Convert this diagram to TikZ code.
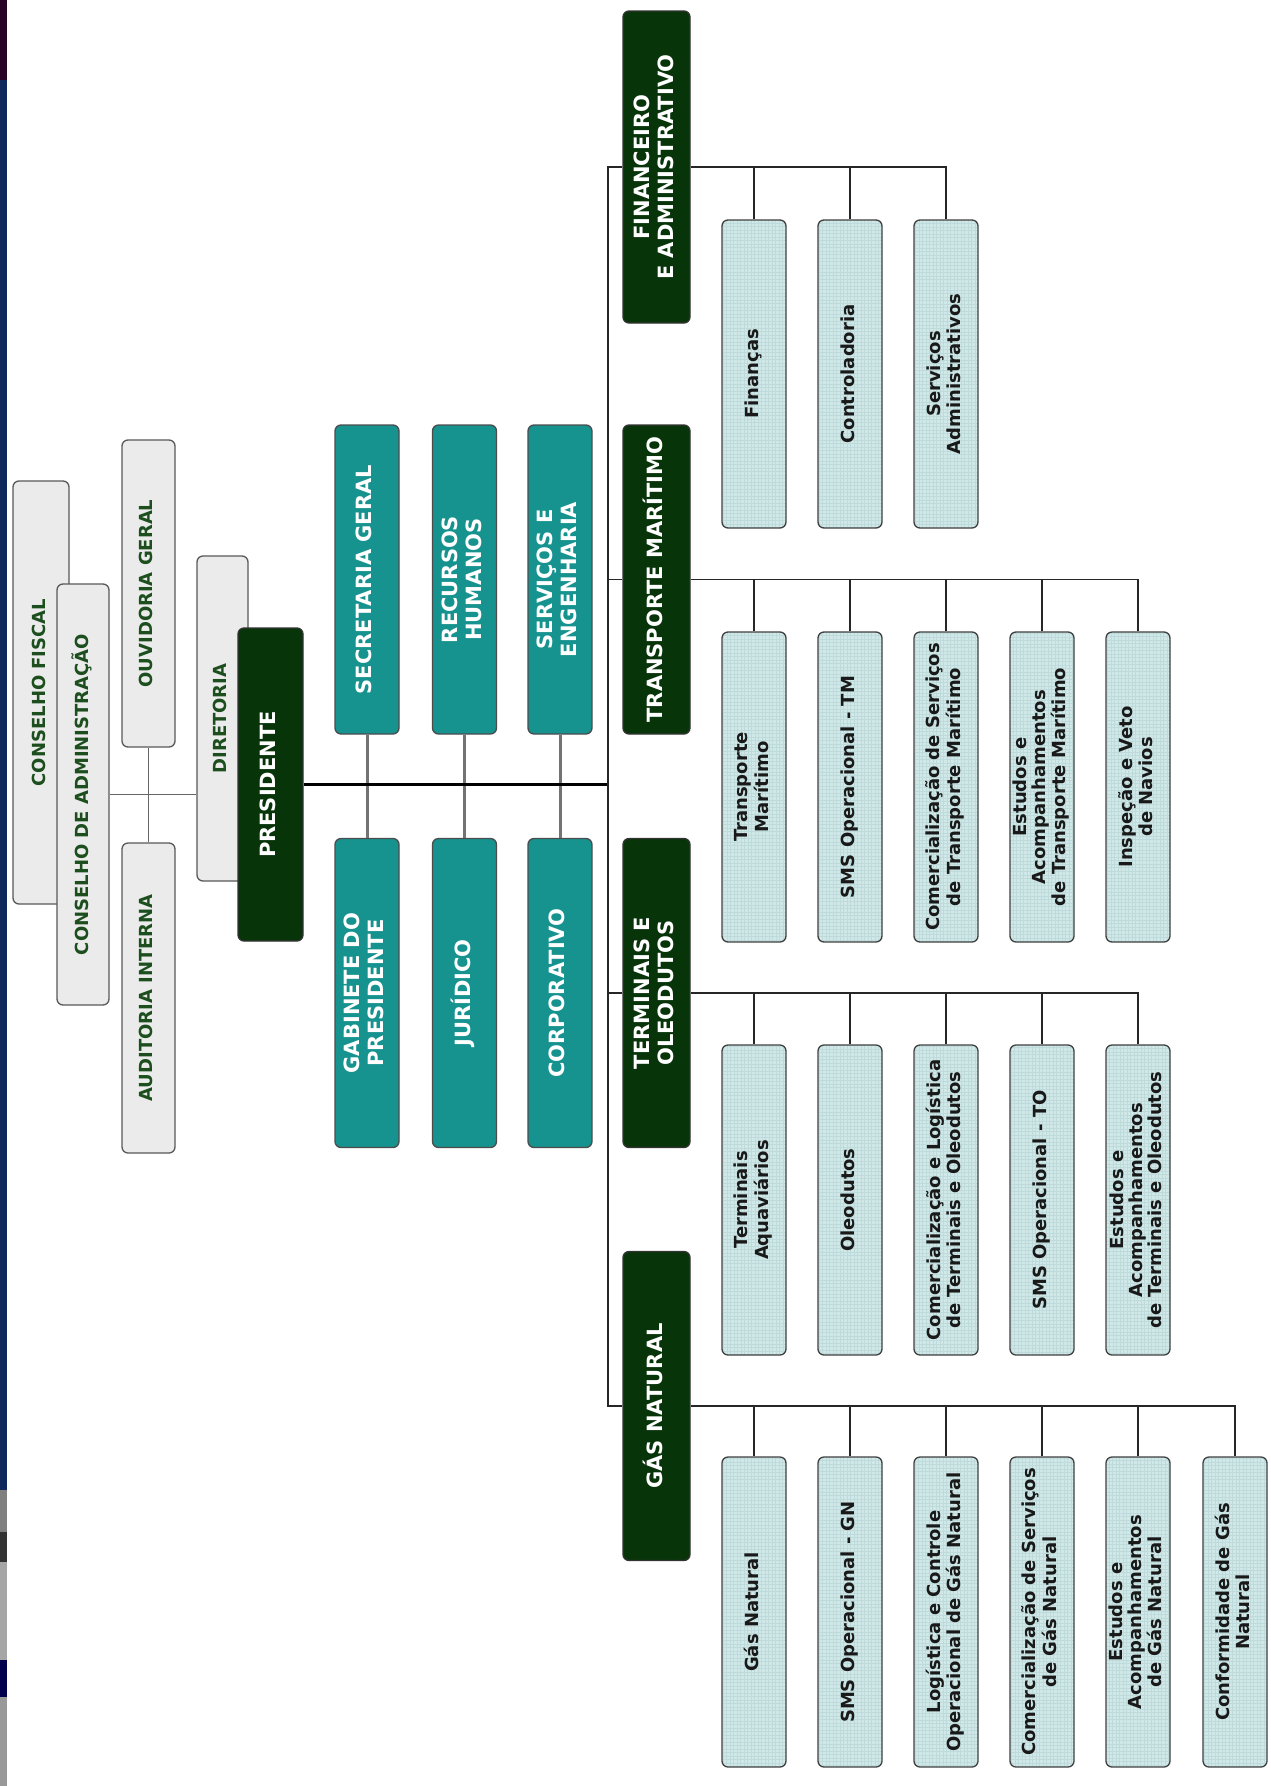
\documentclass[tikz,border=0pt]{standalone}
\usepackage{fontspec}
\setmainfont{DejaVu Sans}
\usepackage{graphicx}
\definecolor{escuro}{RGB}{8,52,10}
\definecolor{petroleo}{RGB}{22,146,143}
\definecolor{cinzacx}{RGB}{235,235,235}
\definecolor{azulcx}{RGB}{208,232,232}
\definecolor{gradecx}{RGB}{190,218,218}
\definecolor{verdetx}{RGB}{28,78,30}
\definecolor{marinho}{RGB}{14,40,92}
\newcommand{\vlabel}[1]{\rotatebox{90}{\begin{tabular}{@{}c@{}}#1\end{tabular}}}

\begin{document}
\begin{tikzpicture}[x=1pt,y=-1pt,
  box/.style={line width=1.3pt,rounded corners=6pt,inner sep=0pt},
  graybox/.style={box,draw=black!65,fill=cinzacx,text=verdetx,
    font=\fontsize{18}{21}\selectfont\bfseries},
  darkbox/.style={box,draw=black!80,fill=escuro,text=white,
    font=\fontsize{21}{24}\selectfont\bfseries},
  divbox/.style={darkbox,minimum width=67pt,minimum height=309pt},
  tealbox/.style={box,draw=black!70,fill=petroleo,text=white,
    minimum width=64pt,minimum height=309pt,
    font=\fontsize{21}{24}\selectfont\bfseries},
  subbox/.style={box,draw=black!75,fill=azulcx,text=black!90,
    minimum width=64pt,minimum height=310pt,
    font=\fontsize{18}{20}\selectfont\bfseries,
    path picture={\draw[gradecx,line width=0.4pt,step=3.5pt]
      (path picture bounding box.south west) grid
      (path picture bounding box.north east);}},
  subtight/.style={subbox,font=\fontsize{18}{18}\selectfont\bfseries},
  elo/.style={draw=black!85,line width=1.6pt},
  elopres/.style={draw=black,line width=3pt},
  elocinza/.style={draw=black!55,line width=3pt},
  elocons/.style={draw=black!60,line width=1.6pt}]
  \useasboundingbox (0,0) rectangle (1270,1786);
  \fill[white] (0,0) rectangle (1270,1786);
  % faixa da borda esquerda
  \fill[black!70!violet] (0,0) rectangle (7,80);
  \fill[marinho] (0,80) rectangle (7,1490);
  \fill[gray] (0,1490) rectangle (7,1532);
  \fill[black!80] (0,1532) rectangle (7,1562);
  \fill[gray!70] (0,1562) rectangle (7,1660);
  \fill[black!70!blue] (0,1660) rectangle (7,1697);
  \fill[gray!80] (0,1697) rectangle (7,1786);

  % conselhos e diretoria
  \node[graybox,minimum width=56pt,minimum height=423pt] (cfiscal) at (41,692.5)
    {\vlabel{CONSELHO FISCAL}};
  \node[graybox,minimum width=52pt,minimum height=421pt] (cadm) at (83,794.5)
    {\vlabel{CONSELHO DE ADMINISTRAÇÃO}};
  \node[graybox,minimum width=53pt,minimum height=307pt] (ouvid) at (148.5,593.5)
    {\vlabel{OUVIDORIA GERAL}};
  \node[graybox,minimum width=53pt,minimum height=310pt] (audit) at (148.5,998)
    {\vlabel{AUDITORIA INTERNA}};
  \node[graybox,minimum width=51pt,minimum height=325pt] (diret) at (222.5,718.5)
    {\vlabel{DIRETORIA}};
  \node[darkbox,minimum width=65pt,minimum height=313pt] (pres) at (270.5,784.5)
    {\vlabel{PRESIDENTE}};

  % orgaos ligados ao presidente
  \node[tealbox] (secgeral) at (367,579.5) {\vlabel{SECRETARIA GERAL}};
  \node[tealbox] (rh) at (464.5,579.5) {\vlabel{RECURSOS\\HUMANOS}};
  \node[tealbox] (serveng) at (560,579.5) {\vlabel{SERVIÇOS E\\ENGENHARIA}};
  \node[tealbox] (gabinete) at (367,993) {\vlabel{GABINETE DO\\PRESIDENTE}};
  \node[tealbox] (juridico) at (464.5,993) {\vlabel{JURÍDICO}};
  \node[tealbox] (corporativo) at (560,993) {\vlabel{CORPORATIVO}};

  % diretorias
  \node[divbox,minimum height=312pt] (fin) at (656.5,167)
    {\vlabel{FINANCEIRO\\E ADMINISTRATIVO}};
  \node[divbox] (transp) at (656.5,579.5) {\vlabel{TRANSPORTE MARÍTIMO}};
  \node[divbox] (term) at (656.5,993) {\vlabel{TERMINAIS E\\OLEODUTOS}};
  \node[divbox] (gas) at (656.5,1406) {\vlabel{GÁS NATURAL}};

  % gerencias
  \node[subbox,minimum height=308pt] (fin1) at (754,374) {\vlabel{Finanças}};
  \node[subbox,minimum height=308pt] (fin2) at (850,374) {\vlabel{Controladoria}};
  \node[subbox,minimum height=308pt] (fin3) at (946,374) {\vlabel{Serviços\\Administrativos}};

  \node[subbox] (transp1) at (754,787) {\vlabel{Transporte\\Marítimo}};
  \node[subbox] (transp2) at (850,787) {\vlabel{SMS Operacional - TM}};
  \node[subbox] (transp3) at (946,787)
    {\vlabel{Comercialização de Serviços\\de Transporte Marítimo}};
  \node[subtight] (transp4) at (1042,787)
    {\vlabel{Estudos e\\Acompanhamentos\\de Transporte Marítimo}};
  \node[subbox] (transp5) at (1138,787) {\vlabel{Inspeção e Veto\\de Navios}};

  \node[subbox] (term1) at (754,1200) {\vlabel{Terminais\\Aquaviários}};
  \node[subbox] (term2) at (850,1200) {\vlabel{Oleodutos}};
  \node[subbox] (term3) at (946,1200)
    {\vlabel{Comercialização e Logística\\de Terminais e Oleodutos}};
  \node[subbox] (term4) at (1042,1200) {\vlabel{SMS Operacional - TO}};
  \node[subtight] (term5) at (1138,1200)
    {\vlabel{Estudos e\\Acompanhamentos\\de Terminais e Oleodutos}};

  \node[subbox] (gas1) at (754,1612) {\vlabel{Gás Natural}};
  \node[subbox] (gas2) at (850,1612) {\vlabel{SMS Operacional - GN}};
  \node[subbox] (gas3) at (946,1612)
    {\vlabel{Logística e Controle\\Operacional de Gás Natural}};
  \node[subbox] (gas4) at (1042,1612)
    {\vlabel{Comercialização de Serviços\\de Gás Natural}};
  \node[subtight] (gas5) at (1138,1612)
    {\vlabel{Estudos e\\Acompanhamentos\\de Gás Natural}};
  \node[subbox] (gas6) at (1235,1612) {\vlabel{Conformidade de Gás\\Natural}};

  % ligacoes
  \coordinate (tronco) at (608,0);
  \draw[elocons] (cadm.east) -- (cadm.east -| diret.west);
  \draw[elocons] (ouvid.south) -- (audit.north);
  \draw[elocinza] (secgeral.south) -- (gabinete.north);
  \draw[elocinza] (rh.south) -- (juridico.north);
  \draw[elocinza] (serveng.south) -- (corporativo.north);
  \draw[elopres] (pres.east) -- (pres.east -| tronco);
  \draw[elo] (fin.west) -- (fin.west -| tronco) -- (gas.west -| tronco) -- (gas.west);
  \draw[elo] (transp.west -| tronco) -- (transp.west);
  \draw[elo] (term.west -| tronco) -- (term.west);

  \draw[elo] (fin.east) -| (fin3.north);
  \draw[elo] (fin1.north) -- (fin1.north |- fin.east);
  \draw[elo] (fin2.north) -- (fin2.north |- fin.east);

  \draw[elo] (transp.east) -| (transp5.north);
  \draw[elo] (transp1.north) -- (transp1.north |- transp.east);
  \draw[elo] (transp2.north) -- (transp2.north |- transp.east);
  \draw[elo] (transp3.north) -- (transp3.north |- transp.east);
  \draw[elo] (transp4.north) -- (transp4.north |- transp.east);

  \draw[elo] (term.east) -| (term5.north);
  \draw[elo] (term1.north) -- (term1.north |- term.east);
  \draw[elo] (term2.north) -- (term2.north |- term.east);
  \draw[elo] (term3.north) -- (term3.north |- term.east);
  \draw[elo] (term4.north) -- (term4.north |- term.east);

  \draw[elo] (gas.east) -| (gas6.north);
  \draw[elo] (gas1.north) -- (gas1.north |- gas.east);
  \draw[elo] (gas2.north) -- (gas2.north |- gas.east);
  \draw[elo] (gas3.north) -- (gas3.north |- gas.east);
  \draw[elo] (gas4.north) -- (gas4.north |- gas.east);
  \draw[elo] (gas5.north) -- (gas5.north |- gas.east);
\end{tikzpicture}
\end{document}
